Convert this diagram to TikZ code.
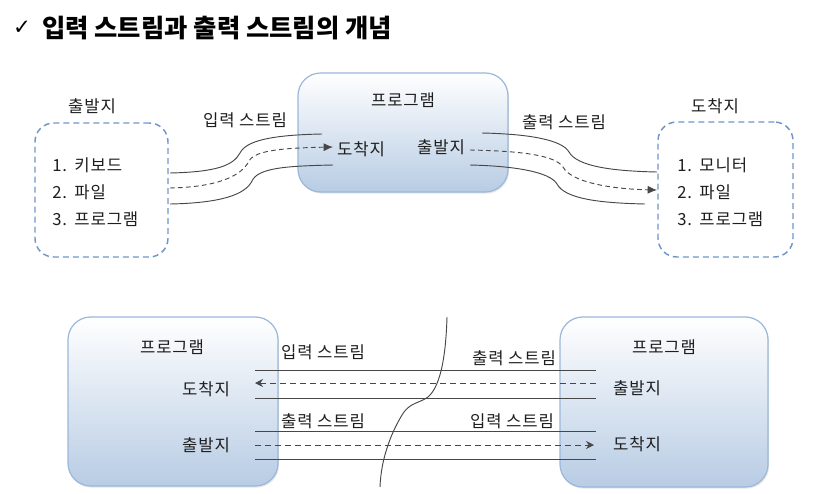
\documentclass[tikz,border=0pt]{standalone}
\usepackage{fontspec}
\setmainfont{Noto Sans CJK KR}
\newfontfamily\kofont[LetterSpace=5]{Noto Sans CJK KR}
\newfontfamily\symfont{DejaVu Sans}
\usetikzlibrary{arrows.meta,fit,shadows}

\definecolor{boxline}{RGB}{112,150,200}
\definecolor{progline}{RGB}{155,183,218}
\definecolor{progfill}{RGB}{184,204,228}
\definecolor{txtcol}{RGB}{30,30,30}

\begin{document}
\begin{tikzpicture}[x=0.75pt, y=-0.75pt,
  txt/.style={font=\kofont\fontsize{12.5}{14}\selectfont, text=txtcol, inner sep=0pt},
  srcbox/.style={draw=boxline, line width=1.1pt, dash pattern=on 4.5pt off 3pt, rounded corners=14pt, inner sep=0pt},
  progbox/.style={draw=progline, line width=0.9pt, rounded corners=17pt, top color=white, bottom color=progfill, inner sep=0pt,
    drop shadow={shadow xshift=0.8pt, shadow yshift=-1.2pt, opacity=0.2}},
  wire/.style={line width=0.7pt, draw=black!72},
  flow/.style={wire, dash pattern=on 3.5pt off 2.5pt},
]
\useasboundingbox (0,0) rectangle (837,493);

% Title
\node[font=\symfont\fontsize{16}{18}\selectfont] (tick) at (22,28) {✓};
\node[anchor=west, font=\bfseries\fontsize{19}{21}\selectfont, inner sep=0pt] (title) at (42,28) {입력 스트림과 출력 스트림의 개념};

% Boxes (top)
\node[srcbox, fit={(35,123) (168,257)}] (src) {};
\node[progbox, fit={(298,73) (508,192)}] (prog) {};
\node[srcbox, fit={(658,122) (793,257)}] (dst) {};

% Boxes (bottom)
\node[progbox, fit={(68,317) (278,486)}] (progL) {};
\node[progbox, fit={(560,317) (768,487)}] (progR) {};

% Stream end points
\coordinate (inTs) at (170,173);  \coordinate (inTk) at (240,153);  \coordinate (inTe) at (322,134);
\coordinate (inMs) at (170,188);  \coordinate (inMk) at (249,161);  \coordinate (inMe) at (333,147);
\coordinate (inBs) at (170,204);  \coordinate (inBk) at (252,181);  \coordinate (inBe) at (333,165);
\coordinate (outTs) at (482,133); \coordinate (outTk) at (569,152); \coordinate (outTe) at (657,172);
\coordinate (outMs) at (470,150); \coordinate (outMk) at (563,167); \coordinate (outMe) at (657,190);
\coordinate (outBs) at (470,165); \coordinate (outBk) at (557,184); \coordinate (outBe) at (645,204);

% Input stream (top)
\draw[wire] (inTs) .. controls +(45,-1) and +(-7,13) .. (inTk) .. controls +(6,-12) and +(-52,1) .. (inTe);
\draw[flow, -{Latex[length=7pt,width=6pt]}] (inMs) .. controls +(50,-1) and +(-7,14) .. (inMk) .. controls +(6,-11) and +(-48,1) .. (inMe);
\draw[wire] (inBs) .. controls +(50,-1) and +(-7,14) .. (inBk) .. controls +(6,-13) and +(-48,1) .. (inBe);

% Output stream (top)
\draw[wire] (outTs) .. controls +(48,1) and +(-7,-12) .. (outTk) .. controls +(8,14) and +(-47,-1) .. (outTe);
\draw[flow, -{Latex[length=7pt,width=6pt]}] (outMs) .. controls +(50,1) and +(-8,-12) .. (outMk) .. controls +(8,15) and +(-47,-1) .. (outMe);
\draw[wire] (outBs) .. controls +(45,1) and +(-7,-12) .. (outBk) .. controls +(8,15) and +(-45,-1) .. (outBe);

% Streams (bottom)
\coordinate (aL1) at (255,370); \coordinate (aR1) at (596,370);
\coordinate (aL2) at (255,383); \coordinate (aR2) at (596,383);
\coordinate (aL3) at (255,398); \coordinate (aR3) at (596,398);
\coordinate (bL1) at (255,431); \coordinate (bR1) at (596,431);
\coordinate (bL2) at (255,445); \coordinate (bR2) at (594,445);
\coordinate (bL3) at (255,459); \coordinate (bR3) at (596,459);
\draw[wire] (aL1) -- (aR1);
\draw[flow, dash pattern=on 4.5pt off 3pt, {Stealth[length=6pt,width=6pt]}-] (aL2) -- (aR2);
\draw[wire] (aL3) -- (aR3);
\draw[wire] (bL1) -- (bR1);
\draw[flow, dash pattern=on 4.5pt off 3pt, -{Stealth[length=6pt,width=6pt]}] (bL2) -- (bR2);
\draw[wire] (bL3) -- (bR3);

% Cut line
\coordinate (cutT) at (447,317);
\coordinate (cutB) at (380,487);
\draw[wire] (cutT) .. controls (446,350) and (442,385) .. (428,397) .. controls (418,404) and (410,402) .. (402,415) .. controls (390,435) and (381,460) .. (cutB);

% Labels (top)
\node[txt] (srcT) at (92,106) {출발지};
\node[txt, anchor=west] (src1) at (52,165) {1.\hspace{0.45em}키보드};
\node[txt, anchor=west] (src2) at (52,192) {2.\hspace{0.45em}파일};
\node[txt, anchor=west] (src3) at (52,219) {3.\hspace{0.45em}프로그램};
\node[txt] (inLab) at (245,120) {입력 스트림};
\node[txt] (progT) at (403,100) {프로그램};
\node[txt] (progIn) at (361,149) {도착지};
\node[txt] (progOut) at (441,147) {출발지};
\node[txt] (outLab) at (564,122) {출력 스트림};
\node[txt] (dstT) at (715,106) {도착지};
\node[txt, anchor=west] (dst1) at (677,165) {1.\hspace{0.45em}모니터};
\node[txt, anchor=west] (dst2) at (677,192) {2.\hspace{0.45em}파일};
\node[txt, anchor=west] (dst3) at (677,219) {3.\hspace{0.45em}프로그램};

% Labels (bottom)
\node[txt] (progLT) at (172,347) {프로그램};
\node[txt] (progLIn) at (206,389) {도착지};
\node[txt] (progLOut) at (206,445) {출발지};
\node[txt] (inLabL) at (323,352) {입력 스트림};
\node[txt] (outLabL) at (323,421) {출력 스트림};
\node[txt] (outLabR) at (514,358) {출력 스트림};
\node[txt] (inLabR) at (512,421) {입력 스트림};
\node[txt] (progRT) at (664,347) {프로그램};
\node[txt] (progROut) at (637,388) {출발지};
\node[txt] (progRIn) at (637,444) {도착지};

\end{tikzpicture}
\end{document}
